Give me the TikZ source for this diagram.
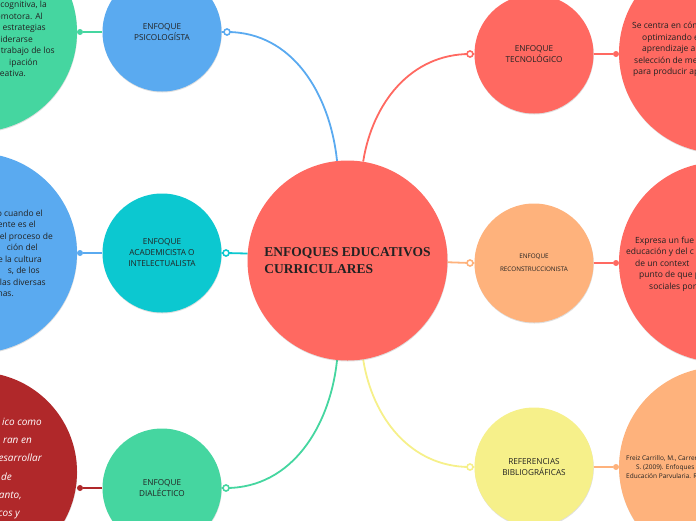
\documentclass[tikz,border=0pt]{standalone}
\usepackage{fontspec}
\setmainfont{Open Sans}
\newfontfamily\titlefont{Liberation Serif}
\usetikzlibrary{shadows, backgrounds}

\definecolor{coral}{HTML}{FF6961}
\definecolor{cielo}{HTML}{5AAAF0}
\definecolor{turquesa}{HTML}{0CC8D0}
\definecolor{menta}{HTML}{45D6A0}
\definecolor{durazno}{HTML}{FEB27C}
\definecolor{limon}{HTML}{F6F08A}
\definecolor{granate}{HTML}{B0282A}
\definecolor{tinta}{HTML}{222222}

% hueco fijo al borde de una linea
\newcommand{\hueco}[1]{\rule{#1}{0pt}}

\begin{document}
\begin{tikzpicture}[
	x=1pt, y=-1pt,
	every node/.style={text=tinta, font=\fontsize{8.2}{11}\selectfont},
	sombra/.style={drop shadow={shadow xshift=0.3pt, shadow yshift=-1pt, opacity=0.25}},
	central/.style={circle, inner sep=0pt, minimum size=200pt, fill=coral, sombra, align=left},
	tema/.style={circle, inner sep=0pt, minimum size=119pt, align=center, sombra},
	grande/.style={circle, inner sep=0pt, minimum size=200pt, sombra},
	nota/.style={inner sep=0pt, font=\fontsize{8.5}{11.5}\selectfont},
	enlace/.style={circle, fill=white, line width=1.6pt, inner sep=0pt, minimum size=6pt},
	punto/.style={circle, inner sep=0pt, minimum size=6pt},
	rama/.style={line width=1.8pt},
	ramita/.style={line width=1.3pt}
	]
	\useasboundingbox (0,0) rectangle (696,520);
	\clip (0,0) rectangle (696,520);
	
	% --- circulos de los extremos ---
	\node[grande, fill=menta] (bigPsico) at (-23,32) {};
	\node[grande, fill=cielo] (bigAcad) at (-23,253) {};
	\node[grande, fill=granate] (bigDial) at (-23,472) {};
	\node[grande, fill=coral] (bigTecno) at (719,53) {};
	\node[grande, fill=coral] (bigRecon) at (719,262) {};
	\node[grande, fill=durazno] (bigRefer) at (719,467) {};
	
	\node[nota, align=right, anchor=east] (txtPsico) at (55,39) {cognitiva, la\hueco{8pt}\\omotora. Al\hueco{12pt}\\estrategias\hueco{9pt}\\iderarse\hueco{22pt}\\trabajo de los\\ipación\hueco{17pt}\\eativa.\hueco{29pt}};
	\node[nota, align=right, anchor=east] (txtAcad) at (53,253.5) {o cuando el\hueco{10pt}\\ente es el\hueco{17pt}\\el proceso de\\ción del\hueco{15pt}\\e la cultura\hueco{11pt}\\s, de los\hueco{13pt}\\las diversas\hueco{7pt}\\nas.\hueco{39pt}};
	\node[nota, align=right, anchor=east, text=white, font=\itshape\fontsize{10}{18.3}\selectfont] (txtDial) at (42,468.5) {ico como\\ran en\hueco{10pt}\\esarrollar\\de\hueco{30pt}\\anto,\hueco{20pt}\\cos y\hueco{22pt}};
	\node[nota, align=left, anchor=west] (txtTecno) at (632,49.5) {Se centra en cóm\\\hueco{10pt}optimizando e\\\hueco{10pt}aprendizaje a\\\hueco{2pt}selección de me\\\hueco{1pt}para producir ap};
	\node[nota, align=left, anchor=west] (txtRecon) at (626,264) {\hueco{9pt}Expresa un fue\\educación y del c\\\hueco{9pt}de un context\\\hueco{13pt}punto de que p\\\hueco{23pt}sociales por};
	\node[nota, align=left, anchor=west, font=\fontsize{6.5}{9}\selectfont] (txtRefer) at (626,467) {Freiz Carrillo, M., Carrer\\\hueco{10pt}S. (2009). Enfoques y\\Educación Parvularia. R};
	
	% --- nodo central y temas ---
	\node[central, font=\titlefont\bfseries\fontsize{13.5}{16.5}\selectfont] (cen) at (347.5,260.5) {ENFOQUES EDUCATIVOS\\CURRICULARES};
	
	\node[tema, fill=cielo] (psico) at (162,32) {ENFOQUE\\PSICOLOGÍSTA};
	\node[tema, fill=turquesa] (acad) at (162,253) {ENFOQUE\\ACADEMICISTA O\\INTELECTUALISTA};
	\node[tema, fill=menta] (dial) at (162,488) {ENFOQUE\\DIALÉCTICO};
	\node[tema, fill=coral] (tecno) at (534,54) {ENFOQUE\\TECNOLÓGICO};
	\node[tema, fill=durazno, font=\fontsize{6.3}{13}\selectfont] (recon) at (534,263) {ENFOQUE\\RECONSTRUCCIONISTA};
	\node[tema, fill=limon] (refer) at (534,467) {REFERENCIAS\\BIBLIOGRÁFICAS};
	
	\node[enlace, draw=cielo] (ringPsico) at (227,32) {};
	\node[enlace, draw=turquesa] (ringAcad) at (226,253) {};
	\node[enlace, draw=menta] (ringDial) at (226,488) {};
	\node[enlace, draw=coral] (ringTecno) at (470,54) {};
	\node[enlace, draw=durazno] (ringRecon) at (470,263) {};
	\node[enlace, draw=limon] (ringRefer) at (470,467) {};
	
	\node[punto, fill=menta] (dotPsico) at (80,32) {};
	\node[punto, fill=cielo] (dotAcad) at (80,253) {};
	\node[punto, fill=granate] (dotDial) at (80,488) {};
	\node[punto, fill=coral] (dotTecno) at (616,54) {};
	\node[punto, fill=coral] (dotRecon) at (616,263) {};
	\node[punto, fill=durazno] (dotRefer) at (616,467) {};
	
	\begin{scope}[on background layer]
		\draw[rama, cielo] (cen.96) to[out=96, in=0] (ringPsico.center) -- (psico);
		\draw[rama, turquesa] (cen.176) -- (ringAcad.center) -- (acad);
		\draw[rama, menta] (cen.264) to[out=264, in=0] (ringDial.center) -- (dial);
		\draw[rama, coral] (cen.81) to[out=81, in=180] (ringTecno.center) -- (tecno);
		\draw[rama, durazno] (cen.359) -- (ringRecon.center) -- (recon);
		\draw[rama, limon] (cen.279) to[out=279, in=180] (ringRefer.center) -- (refer);
		
		\draw[ramita, menta] (psico) -- (dotPsico);
		\draw[ramita, cielo] (acad) -- (dotAcad);
		\draw[ramita, granate] (dial) -- (dotDial);
		\draw[ramita, coral] (tecno) -- (dotTecno);
		\draw[ramita, coral] (recon) -- (dotRecon);
		\draw[ramita, durazno] (refer) -- (dotRefer);
	\end{scope}
	
\end{tikzpicture}
\end{document}
